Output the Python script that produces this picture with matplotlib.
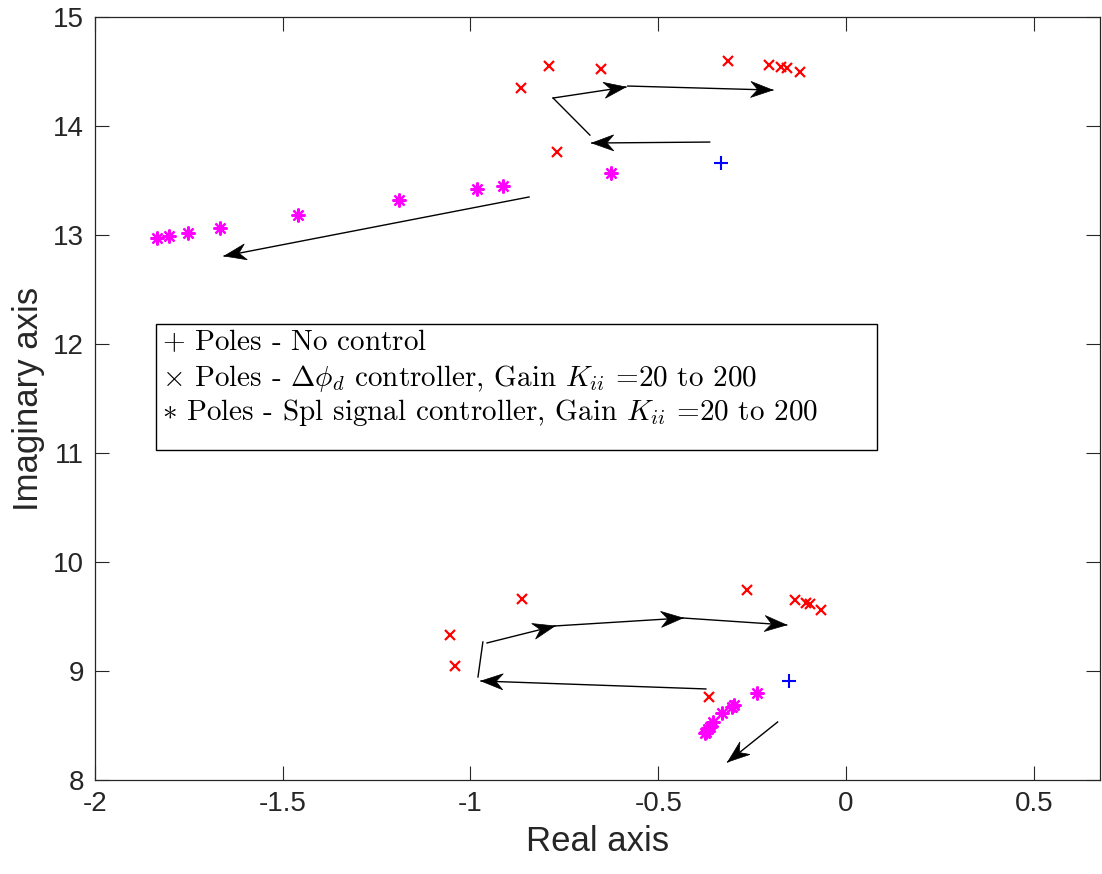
import matplotlib
matplotlib.use('Agg')
import numpy as np
import matplotlib.pyplot as plt
from matplotlib.patches import Rectangle, Polygon
from matplotlib.transforms import IdentityTransform

# poles (real, imag)
nocontrol_re = [-0.333, -0.152]
nocontrol_im = [13.66, 8.91]

phid_re = [-0.866, -0.791, -0.653, -0.315, -0.205, -0.173, -0.158, -0.123, -0.770,
           -1.055, -1.041, -0.863, -0.264, -0.136, -0.107, -0.097, -0.067, -0.365]
phid_im = [14.35, 14.55, 14.52, 14.60, 14.56, 14.54, 14.53, 14.50, 13.76,
           9.33, 9.05, 9.66, 9.74, 9.65, 9.62, 9.61, 9.56, 8.76]

spl_re = [-1.835, -1.803, -1.752, -1.667, -1.460, -1.191, -0.983, -0.914, -0.626,
          -0.238, -0.299, -0.304, -0.331, -0.355, -0.363, -0.368, -0.373, -0.376]
spl_im = [12.97, 12.99, 13.02, 13.06, 13.18, 13.32, 13.42, 13.45, 13.57,
          8.80, 8.69, 8.67, 8.61, 8.53, 8.49, 8.47, 8.44, 8.43]

# direction arrows (start -> end), and plain connector lines
arrows = [
    ((-0.780, 14.257), (-0.586, 14.358)),
    ((-0.581, 14.367), (-0.195, 14.330)),
    ((-0.363, 13.853), (-0.677, 13.844)),
    ((-0.844, 13.349), (-1.656, 12.807)),
    ((-0.956, 9.257), (-0.775, 9.413)),
    ((-0.775, 9.413), (-0.434, 9.486)),
    ((-0.434, 9.486), (-0.158, 9.422)),
    ((-0.373, 8.835), (-0.972, 8.908)),
    ((-0.182, 8.532), (-0.315, 8.165)),
]
links = [
    ((-0.780, 14.257), (-0.682, 13.917)),
    ((-0.967, 9.266), (-0.980, 8.945)),
]

xticks = [-2, -1.5, -1, -0.5, 0, 0.5]
xticklabels = ['-2', '-1.5', '-1', '-0.5', '0', '0.5']
yticks = [8, 9, 10, 11, 12, 13, 14, 15]

legend_lines = [
    r'$+$ Poles - No control',
    r'$\times$ Poles - $\Delta\phi_d$ controller, Gain $K_{ii}$ =20 to 200',
    r'$\ast$ Poles - Spl signal controller, Gain $K_{ii}$ =20 to 200',
]

plt.rcParams['mathtext.fontset'] = 'cm'
plt.rcParams['axes.unicode_minus'] = False
plt.rcParams['font.family'] = ['Liberation Sans', 'DejaVu Sans']

fig = plt.figure(figsize=(11.02, 8.74), dpi=100)
ax = fig.add_axes([0.0862, 0.1076, 0.9118, 0.8729])
ax.set_xlim(-2, 0.676)
ax.set_ylim(8, 15)

ax.plot(nocontrol_re, nocontrol_im, '+', color='blue', ms=10, mew=1.5, ls='none')
ax.plot(phid_re, phid_im, 'x', color='red', ms=7.5, mew=1.6, ls='none')
ax.plot(spl_re, spl_im, marker=(8, 2, 0), color='magenta', ms=10, mew=1.6, ls='none')


def matlab_arrow(p0, p1, L=22.0, W=16.0, notch=15.0):
    # thin line plus a swept-back head, head built in pixel space
    ax.plot([p0[0], p1[0]], [p0[1], p1[1]], color='black', lw=1.0)
    a = ax.transData.transform(p0)
    b = ax.transData.transform(p1)
    d = (b - a) / np.hypot(*(b - a))
    n = np.array([-d[1], d[0]])
    pts = [b, b - L * d + W / 2 * n, b - notch * d, b - L * d - W / 2 * n]
    ax.add_patch(Polygon(pts, closed=True, transform=IdentityTransform(),
                         facecolor='black', edgecolor='black', lw=0.5, zorder=3))


for p0, p1 in arrows:
    matlab_arrow(p0, p1)
for (x0, y0), (x1, y1) in links:
    ax.plot([x0, x1], [y0, y1], color='black', lw=1.0)

# text box used as legend
ax.add_patch(Rectangle((0.0607, 0.4325), 0.7173, 0.1651, transform=ax.transAxes,
                       facecolor='white', edgecolor='black', lw=1.0, zorder=5))
for txt, yy in zip(legend_lines, [0.5727, 0.5256, 0.4810]):
    ax.text(0.0667, yy, txt, transform=ax.transAxes, fontsize=21,
            family='cmr10', va='center', ha='left', zorder=6)

ax.set_xticks(xticks)
ax.set_xticklabels(xticklabels)
ax.set_yticks(yticks)
ax.tick_params(direction='in', length=10, width=0.8, labelsize=20, colors='#262626',
               top=True, right=True, pad=8)
for s in ax.spines.values():
    s.set_color('#262626')
    s.set_linewidth(0.9)

ax.set_xlabel('Real axis', fontsize=25, color='#262626', labelpad=6)
ax.set_ylabel('Imaginary axis', fontsize=25, color='#262626', labelpad=6)

fig.savefig('out.png', dpi=100)
